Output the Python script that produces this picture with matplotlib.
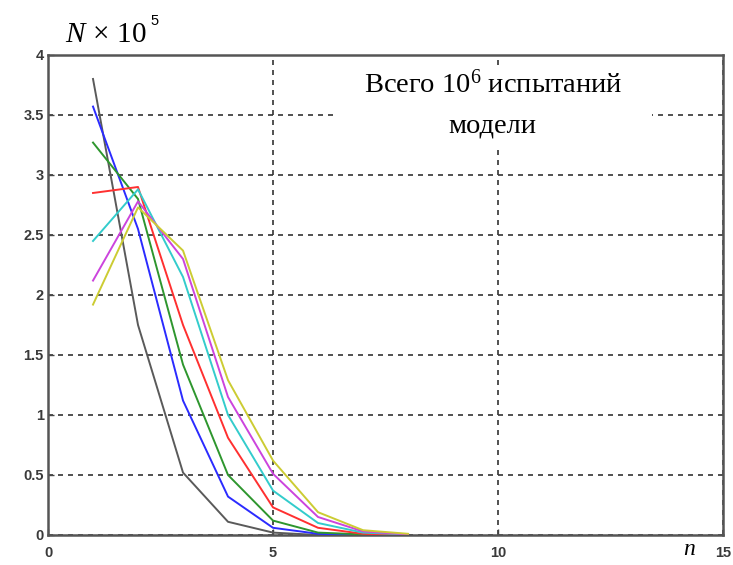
import numpy as np
import matplotlib
matplotlib.use('Agg')
import matplotlib.pyplot as plt
from matplotlib.patches import Rectangle

plt.rcParams['mathtext.fontset'] = 'custom'
plt.rcParams['mathtext.rm'] = 'Liberation Serif'
plt.rcParams['mathtext.it'] = 'Liberation Serif:italic'

#%% data
n = [1, 2, 3, 4, 5, 6, 7, 8]
N_black = [3.80, 1.75, 0.52, 0.11, 0.02, 0.0, 0.0, 0.0]
N_blue = [3.57, 2.55, 1.12, 0.32, 0.06, 0.01, 0.0, 0.0]
N_green = [3.27, 2.80, 1.42, 0.50, 0.12, 0.02, 0.005, 0.0]
N_red = [2.85, 2.90, 1.75, 0.81, 0.23, 0.06, 0.01, 0.0]
N_cyan = [2.45, 2.88, 2.15, 1.00, 0.37, 0.10, 0.02, 0.005]
N_magenta = [2.12, 2.78, 2.30, 1.15, 0.51, 0.15, 0.03, 0.005]
N_yellow = [1.92, 2.73, 2.37, 1.29, 0.62, 0.19, 0.04, 0.01]

xticks = [0, 5, 10, 15]
yticks = [0, 0.5, 1, 1.5, 2, 2.5, 3, 3.5, 4]
ytick_labels = ['0', '0.5', '1', '1.5', '2', '2.5', '3', '3.5', '4']

#%%
fig = plt.figure(figsize=(7.33, 5.65), dpi=100)
ax = fig.add_axes([0.0655, 0.0531, 0.9209, 0.8496])

series = [(N_black, '#5a5a5a'), (N_blue, '#2b2bff'), (N_green, '#2e962e'),
          (N_red, '#ff3030'), (N_cyan, '#33cccc'), (N_magenta, '#cc44dd'),
          (N_yellow, '#cccc33')]
for vals, c in series:
    ax.plot(n, vals, color=c, lw=1.4, zorder=3)

ax.set_xlim(0, 15)
ax.set_ylim(0, 4)
ax.set_xticks(xticks)
ax.set_yticks(yticks)
ax.set_yticklabels(ytick_labels)
ax.grid(True, color='#333333', ls=(0, (3, 3)), lw=1.2, zorder=1)
ax.tick_params(direction='in', length=4, width=1, color='#444444',
               labelsize=10.5, labelcolor='#3a3a3a')
ax.tick_params(axis='y', pad=3)
ax.tick_params(axis='x', pad=8)
for lab in ax.get_xticklabels() + ax.get_yticklabels():
    lab.set_family('Liberation Sans')
    lab.set_weight('bold')
for s in ax.spines.values():
    s.set_linewidth(1.8)
    s.set_color('#555555')

# axis labels placed like the original
fig.text(0.088, 0.926, r'$N\,\times\,10$', fontsize=21,
         va='baseline', ha='left')
fig.text(0.205, 0.956, '5', fontsize=10.5, family='Liberation Sans',
         va='baseline', ha='left')
fig.text(0.940, 0.018, r'$n$', fontsize=17, ha='center', va='baseline')

# white box behind the note, like the original
ax.add_patch(Rectangle((6.44, 3.225), 6.98, 0.675, facecolor='white',
                       edgecolor='none', zorder=4))
ax.text(9.9, 3.683, 'Всего $10^6$ испытаний', fontsize=20.5,
        family='Liberation Serif', ha='center', va='baseline', zorder=5)
ax.text(9.88, 3.358, 'модели', fontsize=20.5,
        family='Liberation Serif', ha='center', va='baseline', zorder=5)

fig.savefig('out.png', dpi=100)
